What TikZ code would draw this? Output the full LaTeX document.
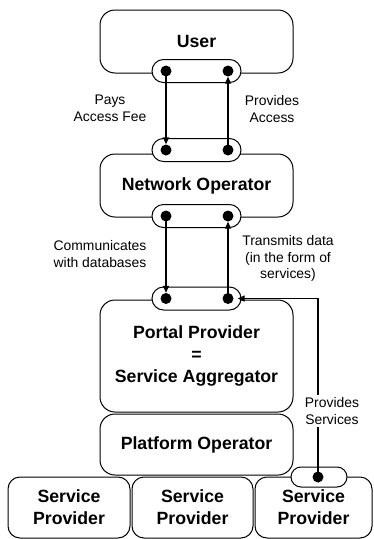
\documentclass[tikz,border=0pt]{standalone}
\usepackage{fontspec}
\setmainfont{Liberation Sans}
\usetikzlibrary{arrows.meta}
\begin{document}
\begin{tikzpicture}[x=1pt,y=-1pt,
  box/.style={draw, fill=white, rounded corners=15pt, line width=1pt, inner sep=0pt,
    align=center, font=\fontsize{17.7}{22}\selectfont\bfseries},
  spbox/.style={box, rounded corners=12pt, minimum height=61pt},
  pill/.style={draw, fill=white, rounded corners=11.5pt, line width=1pt, inner sep=0pt,
    minimum width=89pt, minimum height=23pt},
  dot/.style={circle, fill=black, inner sep=0pt, minimum size=11pt},
  arr/.style={line width=1.4pt, -{Triangle[length=7pt,width=6pt]}},
  lbl/.style={align=center, font=\fontsize{13.9}{16.5}\selectfont, inner sep=1pt},
]
\useasboundingbox (0,0) rectangle (373,539);

% main role boxes
\node[box, minimum width=193pt, minimum height=63pt] (user) at (196.5,41.5) {User};
\node[box, minimum width=193pt, minimum height=63pt] (netop) at (196.5,185.5) {Network Operator};
\node[box, minimum width=193pt, minimum height=112pt] (portal) at (196.5,356) {Portal Provider\\=\\Service Aggregator};
\node[box, minimum width=193pt, minimum height=61pt] (platform) at (196.5,444.5) {Platform Operator};

% service providers
\node[spbox, minimum width=122pt] (sp1) at (69,507.5) {Service\\Provider};
\node[spbox, minimum width=121pt] (sp2) at (192.5,507.5) {Service\\Provider};
\node[spbox, minimum width=117pt] (sp3) at (313.5,507.5) {Service\\Provider};

% interface pills
\node[pill] (pU) at (196.5,71) {};
\node[pill] (pNt) at (196.5,150) {};
\node[pill] (pNb) at (196.5,216) {};
\node[pill] (pP) at (196.5,298.5) {};
\node[pill, minimum width=56pt, minimum height=20pt, rounded corners=10pt] (pS) at (319,477) {};

% connection dots
\node[dot] (u1) at (166,71) {};
\node[dot] (u2) at (228,71) {};
\node[dot] (n1) at (166,150) {};
\node[dot] (n2) at (228,150) {};
\node[dot] (n3) at (166,216) {};
\node[dot] (n4) at (228,216) {};
\node[dot] (p1) at (166,298.5) {};
\node[dot] (p2) at (228,298.5) {};
\node[dot] (s1) at (318,477) {};

% flows
\draw[arr] (u1.center) -- (n1);
\draw[arr] (n2.center) -- (u2);
\draw[arr] (n3.center) -- (p1);
\draw[arr] (p2.center) -- (n4);
\coordinate (bend) at (318,298.5);
\draw[arr] (s1.center) -- (bend) -- ([xshift=4pt]p2.east);

% flow labels
\node[lbl] (l1) at (110,108.5) {Pays\\Access Fee};
\node[lbl] (l2) at (272,109) {Provides\\Access};
\node[lbl] (l3) at (100,254) {Communicates\\with databases};
\node[lbl] (l4) at (288,258.5) {Transmits data\\(in the form of\\services)};
\node[lbl, fill=white, inner sep=3pt] (l5) at (332,411) {Provides\\Services};
\end{tikzpicture}
\end{document}
